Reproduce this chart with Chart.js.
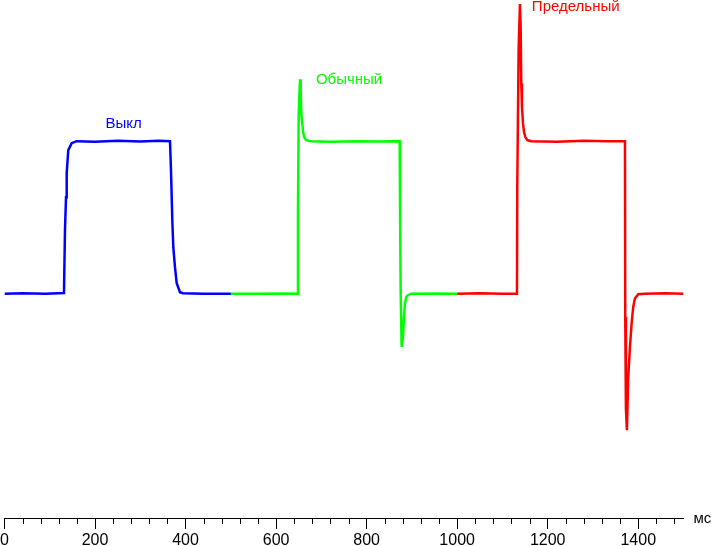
<!DOCTYPE html>
<html lang="ru">
<head>
<meta charset="UTF-8">
<title>Отклик</title>
<script src="https://cdn.jsdelivr.net/npm/chart.js"></script>
<style>
    body { margin: 0; background: #fff; }
    #c { display: block; }
</style>
</head>
<body>
<canvas id="c" width="711" height="546"></canvas>
<script>
// время, мс / уровень (0 = чёрный, 100 = белый)
const offX = [0, 40, 90, 131.4, 133.6, 135.9, 137.4, 140.9, 148.4, 159.5, 200, 250, 300, 340, 365.6,
              367.8, 370.7, 372.9, 376.6, 380.4, 387.7, 394.3, 440, 500];
const offY = [0, 0.3, 0, 0.5, 41.6, 63.3, 79, 94.1, 98.7, 100, 99.6, 100.3, 99.7, 100.2, 100,
              81, 48.2, 30.5, 17.4, 6.9, 1, 0.3, 0, 0];

const normX = [500, 560, 620, 646.8, 648.3, 649.9, 652.8, 654.3, 655.6, 657.8, 660, 663.1, 666.6, 677,
               720, 780, 830, 873, 873.7, 875.2, 877.4, 880.3, 882.5, 884.7, 887.6, 891.3, 898.6, 950, 1000];
const normY = [0, 0, 0.2, 0, 53.6, 118.2, 140.5, 133.4, 118.2, 111.8, 105.2, 101.9, 100.6, 100,
               99.6, 100, 99.7, 100, 60.2, 0.3, -34.9, -28.3, -15.2, -6.4, -2.1, -1, 0, 0.2, 0];

const maxX = [1000, 1050, 1100, 1132.1, 1132.8, 1135.8, 1138.7, 1140.3, 1141.6, 1143.2, 1145.4, 1147.6,
              1150.4, 1154.9, 1163.7, 1220, 1280, 1330, 1370.7, 1371.3, 1372.8, 1375, 1377.9, 1381.7,
              1385.4, 1388.9, 1392.7, 1400, 1414.8, 1460, 1500];
const maxY = [0, 0.3, 0, 0, 71.1, 160.8, 189.8, 175, 137.8, 122.5, 111.6, 106.1,
              102.8, 100.7, 100, 99.6, 100.2, 100, 100, -15.2, -75.3, -89.5, -54.6, -34.9,
              -19.5, -8.7, -3.1, -0.3, 0, 0.3, 0];

const majorTicks = [0, 200, 400, 600, 800, 1000, 1200, 1400];
const minorStep = 40;

const seriesNames = ['Выкл', 'Обычный', 'Предельный'];
const seriesColors = ['#0000ff', '#00ff00', '#ff0000'];
// подписи: [x мс, уровень, выравнивание]
const labelPos = [[263, 111, 'center'], [688, 140, 'left'], [1165, 188, 'left']];

function pts(xs, ys) {
    return xs.map((x, i) => ({ x: x, y: ys[i] }));
}

const extras = {
    id: 'extras',
    afterDraw(chart) {
        const ctx = chart.ctx;
        const xs = chart.scales.x, ys = chart.scales.y;
        const bottom = chart.chartArea.bottom;
        ctx.save();
        // мелкие деления
        ctx.strokeStyle = '#000';
        ctx.lineWidth = 1;
        for (let v = minorStep; v < 1500; v += minorStep) {
            if (v % 200 === 0) continue;
            const px = Math.round(xs.getPixelForValue(v)) + 0.5;
            ctx.beginPath();
            ctx.moveTo(px, bottom);
            ctx.lineTo(px, bottom + 6);
            ctx.stroke();
        }
        // единицы
        ctx.fillStyle = '#000';
        ctx.font = '15px "Liberation Sans", Arial, sans-serif';
        ctx.textAlign = 'left';
        ctx.textBaseline = 'middle';
        ctx.fillText('мс', chart.chartArea.right + 10, bottom + 1);
        // подписи серий
        seriesNames.forEach((name, i) => {
            ctx.fillStyle = seriesColors[i];
            ctx.textAlign = labelPos[i][2];
            ctx.fillText(name, xs.getPixelForValue(labelPos[i][0]), ys.getPixelForValue(labelPos[i][1]));
        });
        ctx.restore();
    }
};

new Chart(document.getElementById('c'), {
    type: 'line',
    data: {
        datasets: [
            { label: seriesNames[0], data: pts(offX, offY), borderColor: seriesColors[0] },
            { label: seriesNames[1], data: pts(normX, normY), borderColor: seriesColors[1] },
            { label: seriesNames[2], data: pts(maxX, maxY), borderColor: seriesColors[2] }
        ]
    },
    options: {
        responsive: false,
        animation: false,
        events: [],
        layout: { padding: { left: 4.5, right: 27.5, top: 0, bottom: 0 } },
        elements: {
            line: { borderWidth: 2.5, tension: 0, fill: false },
            point: { radius: 0 }
        },
        plugins: { legend: { display: false }, tooltip: { enabled: false } },
        scales: {
            x: {
                type: 'linear',
                min: 0,
                max: 1500,
                afterBuildTicks: s => { s.ticks = majorTicks.map(v => ({ value: v })); },
                afterFit: s => { s.height = 28; s.paddingLeft = 0; s.paddingRight = 0; },
                grid: { drawOnChartArea: false, drawTicks: true, tickLength: 11, color: '#000', lineWidth: 1 },
                border: { display: true, color: '#000', width: 1 },
                ticks: {
                    color: '#000',
                    padding: 2,
                    maxRotation: 0,
                    autoSkip: false,
                    callback: v => String(v),
                    font: { family: '"Liberation Sans", Arial, sans-serif', size: 16 }
                }
            },
            y: {
                type: 'linear',
                display: false,
                min: -147,
                max: 192.5
            }
        }
    },
    plugins: [extras]
});
</script>
</body>
</html>
